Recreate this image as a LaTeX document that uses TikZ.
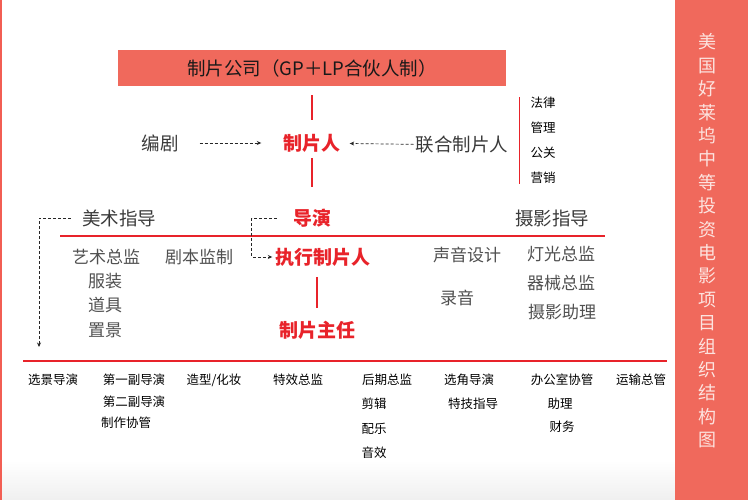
\documentclass[tikz,border=0pt]{standalone}
\usepackage{fontspec}
\setmainfont{Noto Sans CJK SC}
\usepackage{tikz}
\usetikzlibrary{arrows.meta}

\definecolor{salmon}{HTML}{F0695C}
\definecolor{hired}{HTML}{E8232A}
\definecolor{darktext}{HTML}{3A3A3A}
\definecolor{greytext}{HTML}{505050}
\definecolor{titletext}{HTML}{FCE3DF}

\tikzset{
  banner/.style={fill=salmon, minimum width=388pt, minimum height=36pt, inner sep=0pt,
    font=\fontsize{18.5}{20}\selectfont, text=black!90},
  lead/.style={inner sep=0pt, font=\fontsize{19}{22}\selectfont\bfseries, text=hired},
  head/.style={inner sep=0pt, font=\fontsize{18.5}{22}\selectfont, text=darktext},
  item/.style={inner sep=0pt, font=\fontsize{17}{20}\selectfont, text=greytext},
  small/.style={inner sep=0pt, font=\fontsize{12.5}{15}\selectfont, text=black},
  redline/.style={draw=hired, line width=1.6pt},
  dasharrow/.style={draw=black!85, line width=0.7pt, dash pattern=on 3pt off 2pt,
    -{Stealth[length=4.5pt,width=4pt]}},
}

\begin{document}
\begin{tikzpicture}[x=1pt, y=-1pt]
\useasboundingbox (0,0) rectangle (748,500);
\fill[top color=white, bottom color=black!6] (0,460) rectangle (675,500);
\draw[draw=salmon!90!red, line width=2pt] (1,0) -- (1,500);

% right panel
\fill[salmon] (675,0) rectangle (748,500);
\node[align=center, inner sep=0pt, text=titletext, font=\fontsize{18}{23.4}\selectfont] (title) at (707,241)
  {美\\国\\好\\莱\\坞\\中\\等\\投\\资\\电\\影\\项\\目\\组\\织\\结\\构\\图};

% top
\node[banner] (company) at (312,68) {制片公司（GP＋LP合伙人制）};
\node[lead] (producer) at (312,143) {制片人};
\node[head] (writer) at (160,143) {编剧};
\node[head] (coproducer) at (462,145) {联合制片人};
\node[small] (law) at (543,103) {法律};
\node[small] (mgmt) at (543,128) {管理};
\node[small] (pr) at (543,153) {公关};
\node[small] (sales) at (543,178) {营销};

\draw[redline, shorten <=9pt, shorten >=13.5pt] (company) -- (producer);
\draw[dasharrow, shorten <=21pt, shorten >=22pt] (writer) -- (producer);
\draw[dasharrow, shorten <=2pt, shorten >=9pt] (coproducer) -- (producer);
\draw[redline] ([xshift=-11pt]law.north west) -- ([xshift=-11pt]sales.south west);

% directors row
\node[head] (artdir) at (119,218) {美术指导};
\node[lead] (director) at (312,218) {导演};
\node[head] (photodir) at (552,218) {摄影指导};
\draw[redline, shorten <=5.5pt, shorten >=21.5pt] (producer) -- (director);

\coordinate (rowl) at (60,236);
\coordinate (rowr) at (605,236);
\draw[redline] (rowl) -- (rowr);

\node[item] (artsup) at (106,257) {艺术总监};
\node[item] (scriptsup) at (199,257) {剧本监制};
\node[lead] (exec) at (323,257) {执行制片人};
\node[item] (sounddes) at (467,255) {声音设计};
\node[item] (lightsup) at (561,254) {灯光总监};
\node[item] (costume) at (105,281) {服装};
\node[item] (props) at (105,305) {道具};
\node[item] (sets) at (105,330) {置景};
\node[item] (gripsup) at (561,283) {器械总监};
\node[item] (recording) at (457,298) {录音};
\node[item] (camasst) at (562,312) {摄影助理};
\node[lead] (manager) at (317,330) {制片主任};

\draw[redline, shorten <=10.5pt, shorten >=12.5pt] (manager.north |- exec.south) -- (manager.north);

\coordinate (artend) at (39,347);
\draw[dasharrow] ([xshift=-11pt]artdir.west) -| (artend);
\draw[dasharrow] ([xshift=-16pt]director.west) -- ++(-25,0) |- ([xshift=-3pt]exec.west);

% crew row
\coordinate (basel) at (23,361);
\coordinate (baser) at (667,361);
\draw[redline] (basel) -- (baser);

\node[small] (scout) at (53,380) {选景导演};
\node[small] (ad1) at (134,380) {第一副导演};
\node[small] (ad2) at (134,402) {第二副导演};
\node[small] (coord) at (126,423) {制作协管};
\node[small] (makeup) at (214,380) {造型/化妆};
\node[small] (vfx) at (298,380) {特效总监};
\node[small] (post) at (387,380) {后期总监};
\node[small] (edit) at (374,404) {剪辑};
\node[small] (music) at (374,429) {配乐};
\node[small] (sfx) at (374,453) {音效};
\node[small] (casting) at (469,380) {选角导演};
\node[small] (stunt) at (473,404) {特技指导};
\node[small] (office) at (562,380) {办公室协管};
\node[small] (assistant) at (560,404) {助理};
\node[small] (finance) at (562,427) {财务};
\node[small] (transport) at (641,380) {运输总管};
\end{tikzpicture}
\end{document}
